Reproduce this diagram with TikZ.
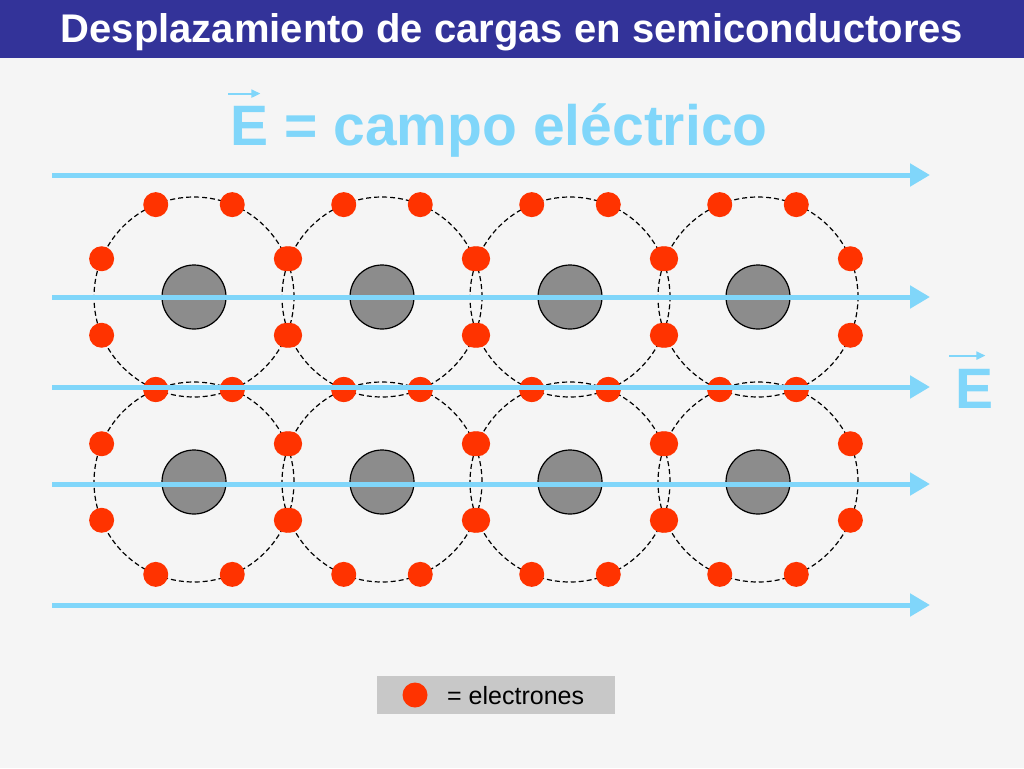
\documentclass[tikz,border=0pt]{standalone}
\usepackage{fontspec}
\setmainfont{Liberation Sans}
\usetikzlibrary{arrows.meta,positioning,calc}
\definecolor{bggray}{RGB}{245,245,245}
\definecolor{titleblue}{RGB}{51,51,153}
\definecolor{fieldblue}{RGB}{128,214,250}
\definecolor{elecred}{RGB}{255,51,0}
\definecolor{nucgray}{RGB}{140,140,140}
\definecolor{boxgray}{RGB}{200,200,200}
\tikzstyle{orbit}=[draw=black,line width=1.2pt,dash pattern=on 5pt off 3pt,shape=circle,minimum size=200pt,inner sep=0pt]
\tikzstyle{nucleus}=[fill=nucgray,draw=black,line width=1.2pt,shape=circle,minimum size=64pt,inner sep=0pt]
\tikzstyle{electron}=[fill=elecred,draw=none,shape=circle,minimum size=25pt,inner sep=0pt]
\tikzstyle{field}=[draw=fieldblue,line width=5pt,-{Triangle[length=20pt,width=22pt]}]
\tikzstyle{vecbar}=[draw=fieldblue,line width=2pt,-{Triangle[length=9pt,width=8pt]}]
\tikzstyle{bigE}=[text=fieldblue,font=\fontsize{57}{60}\selectfont\bfseries,inner sep=0pt]

\begin{document}
\begin{tikzpicture}[x=1pt,y=-1pt]
	\useasboundingbox (0,0) rectangle (1024,768);
	\fill[bggray] (0,0) rectangle (1024,768);
	% title bar
	\fill[titleblue] (0,0) rectangle (1024,58);
	\node[text=white,font=\fontsize{40}{42}\selectfont\bfseries,inner sep=0pt,anchor=base]
		(head) at (512,43) {Desplazamiento de cargas en semiconductores};
	% field label
	\node[bigE,anchor=base west] (E1) at (230,145) {E};
	\node[bigE,anchor=base west] (campo) at (E1.base east) {\ = campo eléctrico};
	\draw[vecbar] ($(E1.north west)+(-2,-12)$) -- ($(E1.north east)+(-8,-12)$);
	% atoms
	\foreach \r/\y in {1/297,2/482}
		\foreach \c in {1,...,4}
			\node[orbit] (orbit-\r-\c) at ({194+188*(\c-1)},\y) {};
	\foreach \r/\y in {1/297,2/482}
		\foreach \c in {1,...,4}
			\node[nucleus] (nuc-\r-\c) at ({194+188*(\c-1)},\y) {};
	\foreach \r in {1,2}
		\foreach \c in {1,...,4}
			\foreach \k in {0,...,7}
				\node[electron] (el-\r-\c-\k) at ($(nuc-\r-\c)+({22.5+45*\k}:100)$) {};
	% field lines
	\foreach \i/\y in {1/175,2/297,3/387,4/484,5/605} {
		\coordinate (f\i w) at (52,\y);
		\coordinate (f\i e) at (930,\y);
		\draw[field] (f\i w) -- (f\i e);
	}
	\node[bigE,anchor=base west] (E2) at (955,408) {E};
	\draw[vecbar] ($(E2.north west)+(-6,-13)$) -- ($(E2.north east)+(-8,-13)$);
	% legend
	\node[fill=boxgray,minimum width=238pt,minimum height=38pt,inner sep=0pt] (legend) at (496,695) {};
	\node[electron] (legdot) at (415,695) {};
	\node[font=\fontsize{25}{28}\selectfont,inner sep=0pt,anchor=base west] (legtext) at (447,704) {= electrones};
\end{tikzpicture}
\end{document}
